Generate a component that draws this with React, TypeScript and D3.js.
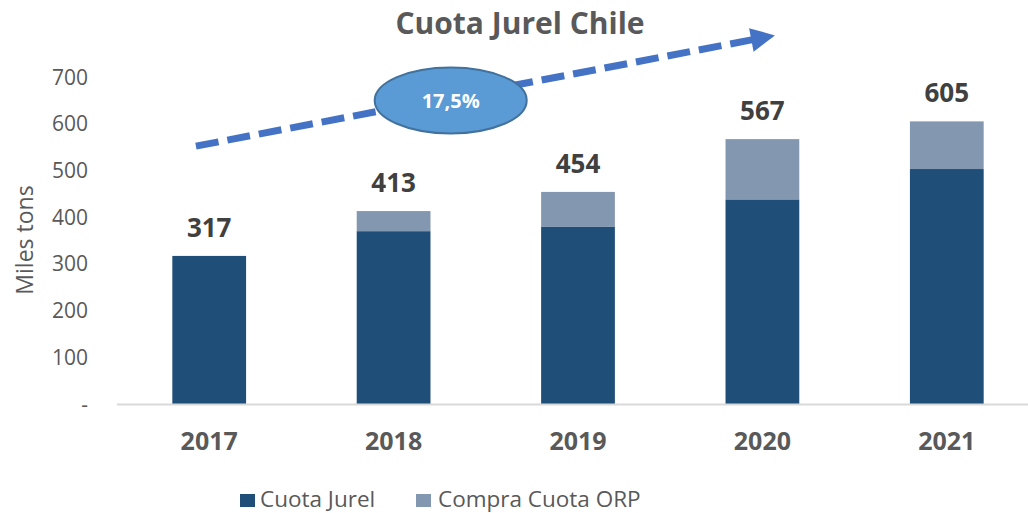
import React from "react";
import * as d3 from "d3";

// data (miles de toneladas)
const years = ["2017", "2018", "2019", "2020", "2021"];
const cuotaJurel = [317, 370, 380, 438, 503];
const compraCuotaORP = [0, 43, 74, 129, 102];
const yTicks = [0, 100, 200, 300, 400, 500, 600, 700];
const growthLabel = "17,5%";

const W = 1028;
const H = 513;
const FONT = "'Open Sans', sans-serif";
const DARK = "#1F4E79";
const LIGHT = "#8497B0";
const TEXT = "#595959";

const App = () => {
  const x = d3
    .scaleBand<string>()
    .domain(years)
    .range([117, 1039])
    .paddingInner(0.6)
    .paddingOuter(0.3);
  const y = d3.scaleLinear().domain([0, 700]).range([404, 77]);
  const bw = x.bandwidth();

  const rows = years.map((yr, i) => ({
    year: yr,
    base: cuotaJurel[i],
    extra: compraCuotaORP[i],
    total: cuotaJurel[i] + compraCuotaORP[i],
  }));

  // trend arrow, placed in chart space
  const sx = x("2017")! + bw * 0.32;
  const sy = y(552);
  const tx = x("2020")! + bw * 0.67;
  const ty = y(789);
  const len = Math.hypot(tx - sx, ty - sy);
  const ux = (tx - sx) / len;
  const uy = (ty - sy) / len;
  const headL = 24;
  const headW = 12;
  const bx = tx - ux * headL;
  const by = ty - uy * headL;
  const head = [
    [tx, ty],
    [bx - uy * headW, by + ux * headW],
    [bx + uy * headW, by - ux * headW],
  ];
  const ex = sx + (tx - sx) * 0.44;
  const ey = sy + (ty - sy) * 0.44 + 3;

  return (
    <svg
      width={W}
      height={H}
      style={{ position: "absolute", left: 0, top: 0, background: "#fff" }}
      fontFamily={FONT}
    >
      <text x={520} y={34} textAnchor="middle" fontSize={30} fontWeight="bold" fill={TEXT}>
        Cuota Jurel Chile
      </text>

      {/* y axis labels */}
      {yTicks.map((t) => (
        <text
          key={t}
          x={88}
          y={y(t)}
          dy="0.36em"
          textAnchor="end"
          fontSize={21}
          fill={TEXT}
        >
          {t === 0 ? "-" : t}
        </text>
      ))}
      <text
        transform={`translate(33,240) rotate(-90)`}
        textAnchor="middle"
        fontSize={23}
        fill={TEXT}
      >
        Miles tons
      </text>

      {/* bars */}
      {rows.map((d) => (
        <g key={d.year}>
          <rect x={x(d.year)} y={y(d.base)} width={bw} height={y(0) - y(d.base)} fill={DARK} />
          {d.extra > 0 && (
            <rect
              x={x(d.year)}
              y={y(d.total)}
              width={bw}
              height={y(d.base) - y(d.total)}
              fill={LIGHT}
            />
          )}
          <text
            x={x(d.year)! + bw / 2}
            y={y(d.total) - 19}
            textAnchor="middle"
            fontSize={26}
            fontWeight="bold"
            fill="#404040"
          >
            {d.total}
          </text>
          <text
            x={x(d.year)! + bw / 2}
            y={450}
            textAnchor="middle"
            fontSize={25}
            fontWeight="bold"
            fill={TEXT}
          >
            {d.year}
          </text>
        </g>
      ))}

      <line x1={117} x2={W} y1={y(0) + 0.5} y2={y(0) + 0.5} stroke="#D9D9D9" strokeWidth={2} />

      {/* trend arrow */}
      <line
        x1={sx}
        y1={sy}
        x2={bx + ux * 2}
        y2={by + uy * 2}
        stroke="#4472C4"
        strokeWidth={7}
        strokeDasharray="23 9"
      />
      <polygon points={head.map((p) => p.join(",")).join(" ")} fill="#4472C4" />
      <ellipse cx={ex} cy={ey} rx={76} ry={33} fill="#5B9BD5" stroke="#41719C" strokeWidth={2} />
      <text x={ex} y={ey} dy="0.36em" textAnchor="middle" fontSize={20} fontWeight="bold" fill="#fff">
        {growthLabel}
      </text>

      {/* legend */}
      <rect x={240} y={494} width={15} height={13} fill={DARK} />
      <text x={260} y={507} fontSize={22.5} fill={TEXT}>
        Cuota Jurel
      </text>
      <rect x={416} y={494} width={15} height={13} fill={LIGHT} />
      <text x={438} y={507} fontSize={22.5} fill={TEXT}>
        Compra Cuota ORP
      </text>
    </svg>
  );
};

export default App;
